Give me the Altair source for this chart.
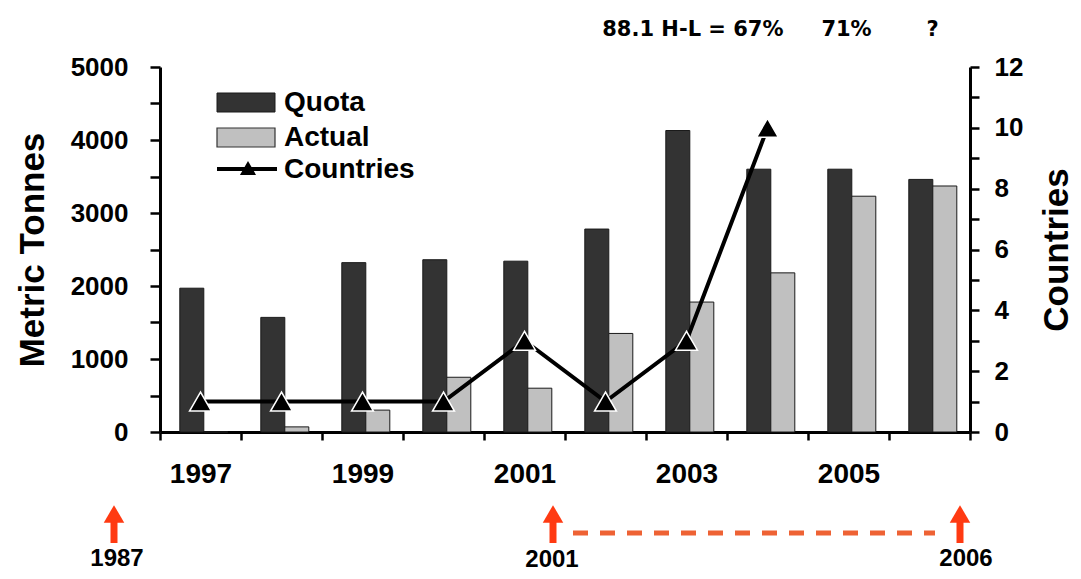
import altair as alt
import pandas as pd

# ---- data ----
years = [1997, 1998, 1999, 2000, 2001, 2002, 2003, 2004, 2005, 2006]
quota = [1970, 1570, 2320, 2360, 2340, 2780, 4130, 3600, 3600, 3460]
actual = [0, 70, 300, 750, 600, 1350, 1780, 2180, 3230, 3370]
countries = [1, 1, 1, 1, 3, 1, 3, 10, None, None]
series_names = ["Quota", "Actual"]
series_colors = ["#333333", "#c0c0c0"]

top_notes = ["88.1 H-L = 67%", "71%", "?"]
top_note_years = [2004, 2005, 2006]
bottom_notes = ["1987", "2001", "2006"]

bars_df = pd.DataFrame(
    {"year": years * 2,
     "series": ["Quota"] * len(years) + ["Actual"] * len(years),
     "value": quota + actual}
)
ctry_df = pd.DataFrame({"year": years, "countries": countries}).dropna()
one = pd.DataFrame({"k": [0]})

FONT = "Liberation Sans"
BLACK = "#000000"
RED = "#ff3a12"
DASH = "#ee6234"

x_enc = alt.X(
    "year:O",
    scale=alt.Scale(paddingInner=0, paddingOuter=0),
    axis=alt.Axis(
        title=None, tickBand="extent", labelAngle=0,
        labelExpr="datum.value % 2 == 1 ? datum.label : ''",
        labelFontSize=28, tickSize=8, labelPadding=20,
    ),
)

bars = alt.Chart(bars_df).mark_bar(stroke="#1a1a1a", strokeWidth=1).encode(
    x=x_enc,
    xOffset=alt.XOffset("series:N", sort=series_names,
                        scale=alt.Scale(paddingInner=0, paddingOuter=0.6875, align=0.6)),
    y=alt.Y("value:Q", scale=alt.Scale(domain=[0, 5000], nice=False),
            axis=alt.Axis(values=list(range(0, 5001, 500)), format="d",
                          labelExpr="datum.value % 1000 == 0 ? datum.label : ''",
                          tickSize=10, labelPadding=22, labelFontSize=26,
                          title="Metric Tonnes", titleFontSize=35,
                          titleFontWeight="bold", titleAngle=270,
                          titleX=-128, titleY=182.5, titleAlign="center",
                          titleBaseline="middle")),
    color=alt.Color("series:N", scale=alt.Scale(domain=series_names, range=series_colors),
                    legend=None),
)

line = alt.Chart(ctry_df).mark_line(
    color=BLACK, strokeWidth=4,
    point=alt.OverlayMarkDef(shape="triangle-up", size=480, filled=True,
                             fill=BLACK, stroke="white", strokeWidth=1.5, opacity=1),
).encode(
    x=alt.X("year:O"),
    y=alt.Y("countries:Q", scale=alt.Scale(domain=[0, 12], nice=False),
            axis=alt.Axis(orient="right", values=list(range(13)), format="d",
                          labelExpr="datum.value % 2 == 0 ? datum.label : ''",
                          tickSize=9, labelPadding=15, labelFontSize=26,
                          title="Countries", titleFontSize=35,
                          titleFontWeight="bold", titleAngle=270,
                          titleX=86, titleY=182.5, titleAlign="center",
                          titleBaseline="middle")),
)

# ---- in-plot legend ----
leg_q = alt.Chart(one).mark_rect(color=series_colors[0], stroke="#1a1a1a", strokeWidth=1).encode(
    x=alt.value(57), x2=alt.value(115), y=alt.value(26), y2=alt.value(45))
leg_a = alt.Chart(one).mark_rect(color=series_colors[1], stroke="#333333", strokeWidth=1.2).encode(
    x=alt.value(57), x2=alt.value(115), y=alt.value(61), y2=alt.value(80))
leg_l = alt.Chart(one).mark_rule(color=BLACK, strokeWidth=4).encode(
    x=alt.value(57), x2=alt.value(117), y=alt.value(102))
leg_p = alt.Chart(one).mark_point(shape="triangle-up", size=260, filled=True,
                                  fill=BLACK, opacity=1).encode(
    x=alt.value(88), y=alt.value(101))
leg_texts = []
for lab, yy in zip(["Quota", "Actual", "Countries"], [36, 71, 103]):
    leg_texts.append(
        alt.Chart(one).mark_text(text=lab, font=FONT, fontWeight="bold", fontSize=28,
                                 align="left", baseline="middle", color=BLACK).encode(
            x=alt.value(124), y=alt.value(yy)))

# ---- annotations above the plot ----
top_layers = []
for lab, yr, al, dx in zip(top_notes, top_note_years, ["right", "center", "center"], [16, -2, 3]):
    top_layers.append(
        alt.Chart(pd.DataFrame({"year": [yr]})).mark_text(
            text=lab, font="DejaVu Sans", fontWeight="bold", fontSize=21,
            align=al, dx=dx, baseline="middle", color=BLACK).encode(
            x=alt.X("year:O"), y=alt.value(-37)))

# ---- timeline annotations below the axis ----
arrow_x = [-46, 393, 800]
label_pos = [(-43, 492), (392, 493), (806, 492)]
bottom_layers = []
for ax_, lab, (lx, ly) in zip(arrow_x, bottom_notes, label_pos):
    bottom_layers.append(alt.Chart(one).mark_rule(color=RED, strokeWidth=7).encode(
        x=alt.value(ax_), y=alt.value(452), y2=alt.value(476)))
    bottom_layers.append(alt.Chart(one).mark_point(shape="triangle-up", size=420, filled=True,
                                                    fill=RED, opacity=1).encode(
        x=alt.value(ax_), y=alt.value(447)))
    bottom_layers.append(alt.Chart(one).mark_text(text=lab, font=FONT, fontWeight="bold",
                                                   fontSize=24, align="center",
                                                   baseline="middle", color=BLACK).encode(
        x=alt.value(lx), y=alt.value(ly)))
dash = alt.Chart(one).mark_rule(color=DASH, strokeWidth=5, strokeDash=[15, 12]).encode(
    x=alt.value(413), x2=alt.value(775), y=alt.value(466))

chart = alt.layer(
    bars, line, leg_q, leg_a, leg_l, leg_p, *leg_texts, *top_layers, *bottom_layers, dash
).resolve_scale(y="independent").properties(
    width=810, height=365,
    autosize=alt.AutoSizeParams(type="none"),
    padding={"left": 152, "top": 59, "right": 103, "bottom": 139},
    background="white",
).configure_view(stroke=None).configure_axis(
    grid=False, domainColor=BLACK, domainWidth=3, tickColor=BLACK, tickWidth=2.5,
    labelFont=FONT, labelFontWeight="bold", labelColor=BLACK,
    titleFont=FONT, titleColor=BLACK,
)

chart.save("out.html", embed_options={"renderer": "svg", "actions": False})
